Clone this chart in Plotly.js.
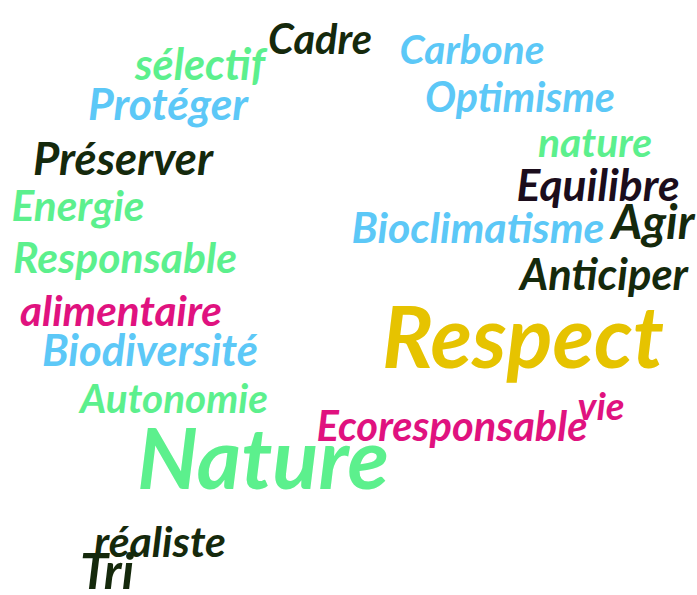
<!DOCTYPE html>
<html><head><meta charset="utf-8">
<script src="https://cdn.plot.ly/plotly-3.0.1.min.js"></script>
<style>html,body{margin:0;padding:0;background:#fff}#chart{width:697px;height:595px}</style>
</head><body><div id="chart"></div>
<script>
// Data: words of the cloud and their colour group
const words = ["Cadre","sélectif","Carbone","Protéger","Optimisme","nature","Préserver","Equilibre","Energie","Agir","Bioclimatisme","Responsable","Anticiper","alimentaire","Respect","Biodiversité","Autonomie","vie","Ecoresponsable","Nature","réaliste","Tri"];
const groups = ["dark","green","blue","blue","blue","green","dark","purple","green","dark","blue","green","dark","magenta","gold","blue","green","magenta","magenta","green","dark","dark"];

// Layout of the cloud (pixel centres and target widths)
const posX = [320,200,472,168,520,595,123,598,78,653,478,125,604,121,523,150,174,601,452,263,160,107];
const posY = [44,69,54,109,102,147,164,190,210,227,232,262,279,315,347,355,403,410,431,468,546,576];
const boxW = [104,130,145,160,190,114,180,163,133,83,253,224,168,202,282,216,188,47,271,252,132,54];

const palette = {dark:"#15290c", purple:"#1b0d1c", green:"#5cf08d", blue:"#5cc8f7", magenta:"#e0127f", gold:"#e6c300"};
const FONT = "Lato";
const ctx = document.createElement("canvas").getContext("2d");
ctx.font = "italic bold 100px " + FONT;
const sizes = words.map((w,i) => 100 * boxW[i] / ctx.measureText(w).width);
const colors = groups.map(g => palette[g]);

const trace = {
  type: "scatter", mode: "text",
  x: posX, y: posY, text: words,
  textposition: "middle center",
  textfont: {family: FONT, size: sizes, color: colors, weight: "bold", style: "italic"},
  hoverinfo: "skip", showlegend: false
};
const layout = {
  width: 697, height: 595,
  margin: {l:0, r:0, t:0, b:0},
  paper_bgcolor: "#ffffff", plot_bgcolor: "#ffffff",
  xaxis: {range: [0,697], visible: false, fixedrange: true},
  yaxis: {range: [595,0], visible: false, fixedrange: true},
  showlegend: false
};
Plotly.newPlot("chart", [trace], layout, {staticPlot: true, displayModeBar: false});
</script></body></html>
